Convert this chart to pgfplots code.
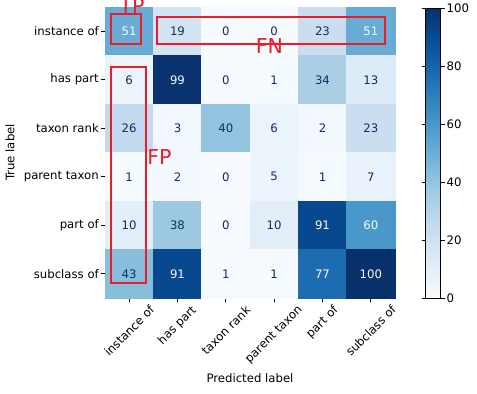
\documentclass[border=0pt]{standalone}
\usepackage{fontspec}
\setmainfont{DejaVu Sans}
\usepackage{graphicx}
\usepackage{pgfplots}
\usepackage{pgfplotstable}
\pgfplotsset{compat=1.18}
\definecolor{tred}{RGB}{235,30,40}
\definecolor{darktxt}{RGB}{8,48,107}
\definecolor{lighttxt}{RGB}{247,251,255}
\newcommand{\tf}{\fontsize{11.7bp}{13bp}\selectfont}

\pgfplotstableread{
x y c
0 0 51
1 0 19
2 0 0
3 0 0
4 0 23
5 0 51
0 1 6
1 1 99
2 1 0
3 1 1
4 1 34
5 1 13
0 2 26
1 2 3
2 2 40
3 2 6
4 2 2
5 2 23
0 3 1
1 3 2
2 3 0
3 3 5
4 3 1
5 3 7
0 4 10
1 4 38
2 4 0
3 4 10
4 4 91
5 4 60
0 5 43
1 5 91
2 5 1
3 5 1
4 5 77
5 5 100
}\cm

\pgfplotstableread{
x y c
1 0 19
2 0 0
3 0 0
4 0 23
0 1 6
2 1 0
3 1 1
4 1 34
5 1 13
0 2 26
1 2 3
2 2 40
3 2 6
4 2 2
5 2 23
0 3 1
1 3 2
2 3 0
3 3 5
4 3 1
5 3 7
0 4 10
1 4 38
2 4 0
3 4 10
0 5 43
2 5 1
3 5 1
}\darkt

\pgfplotstableread{
x y c
0 0 51
5 0 51
1 1 99
4 4 91
5 4 60
1 5 91
4 5 77
5 5 100
}\lightt

\begin{document}
\begin{tikzpicture}
\useasboundingbox (-105bp,-96bp) rectangle (372bp,298bp);
\begin{axis}[
  at={(0,0)}, anchor=south west,
  scale only axis, width=290bp, height=291bp,
  xmin=-0.5, xmax=5.5, ymin=-0.5, ymax=5.5, y dir=reverse,
  xtick={0,...,5}, ytick={0,...,5},
  xticklabels={\rotatebox{45}{instance of},\rotatebox{45}{has part},\rotatebox{45}{taxon rank},\rotatebox{45}{parent taxon},\rotatebox{45}{part of},\rotatebox{45}{subclass of}},
  yticklabels={instance of,has part,taxon rank,parent taxon,part of,subclass of},
  tick align=outside, tick pos=left,
  major tick length=4bp,
  every tick/.style={black, line width=0.9bp},
  axis line style={line width=0.9bp},
  tick label style={font=\tf},
  xticklabel style={anchor=north, inner sep=2.5bp},
  yticklabel style={anchor=east, inner sep=2bp},
  colormap={blues}{rgb255(0cm)=(247,251,255) rgb255(1cm)=(222,235,247) rgb255(2cm)=(198,219,239) rgb255(3cm)=(158,202,225) rgb255(4cm)=(107,174,214) rgb255(5cm)=(66,146,198) rgb255(6cm)=(33,113,181) rgb255(7cm)=(8,81,156) rgb255(8cm)=(8,48,107)},
  point meta min=0, point meta max=100,
  colorbar,
  colorbar style={
    at={(parent axis.south east)}, anchor=south west, xshift=22bp,
    scale only axis, width=15bp, height=290bp,
    ytick={0,20,...,100},
    tick align=outside, major tick length=4bp,
    every tick/.style={black, line width=0.9bp},
    axis line style={line width=0.9bp},
    yticklabel style={font=\tf, inner sep=2bp, /pgf/number format/assume math mode=true},
  },
  clip=false,
  xlabel={Predicted label}, ylabel={True label},
  label style={font=\tf},
  xlabel style={at={(axis description cs:0.5,-0.2739)}, anchor=center},
  ylabel style={at={(axis description cs:-0.3276,0.5)}, anchor=center},
]
\addplot[matrix plot*, mesh/cols=6, point meta=explicit] table[x=x,y=y,meta=c]{\cm};
\addplot[draw=none, mark=none, nodes near coords, point meta=explicit symbolic,
  nodes near coords style={anchor=center, text=darktxt, font=\tf}] table[x=x,y=y,meta=c]{\darkt};
\addplot[draw=none, mark=none, nodes near coords, point meta=explicit symbolic,
  nodes near coords style={anchor=center, text=lighttxt, font=\tf}] table[x=x,y=y,meta=c]{\lightt};
\draw[tred, line width=2bp] (axis cs:-0.382,-0.35) rectangle (axis cs:0.251,0.263);
\draw[tred, line width=2bp] (axis cs:0.576,-0.30) rectangle (axis cs:5.293,0.257);
\draw[tred, line width=2bp] (axis cs:-0.382,0.731) rectangle (axis cs:0.348,5.184);
\node[text=tred, font=\fontsize{20.5bp}{24bp}\selectfont, inner sep=0pt] at (axis cs:0.059,-0.53) {TP};
\node[text=tred, font=\fontsize{20.5bp}{24bp}\selectfont, inner sep=0pt] at (axis cs:2.90,0.298) {FN};
\node[text=tred, font=\fontsize{20.5bp}{24bp}\selectfont, inner sep=0pt] at (axis cs:0.628,2.60) {FP};
\end{axis}
\end{tikzpicture}
\end{document}
